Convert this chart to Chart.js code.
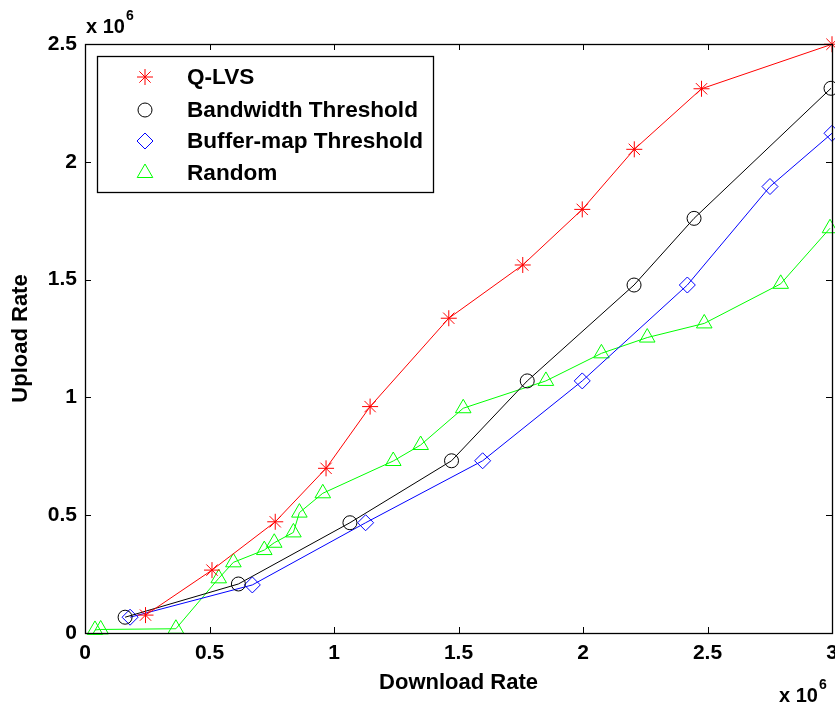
<!DOCTYPE html>
<html>
<head>
<meta charset="utf-8">
<script src="https://cdn.jsdelivr.net/npm/chart.js@4.4.0/dist/chart.umd.min.js"></script>
<style>
  html, body { margin: 0; padding: 0; background: #fff; overflow: hidden; }
  #wrap { width: 850px; height: 711px; }
</style>
</head>
<body>
<div id="wrap"><canvas id="rateChart" width="850" height="711"></canvas></div>
<script>
// values are in units of 10^6 (shown by the "x 10^6" labels)
const seriesNames = ["Q-LVS", "Bandwidth Threshold", "Buffer-map Threshold", "Random"];

const qlvsX = [0.243, 0.51, 0.764, 0.968, 1.145, 1.461, 1.758, 1.997, 2.206, 2.476, 3.0];
const qlvsY = [0.076, 0.267, 0.472, 0.699, 0.961, 1.336, 1.562, 1.798, 2.053, 2.31, 2.499];

const bandwidthX = [0.161, 0.616, 1.064, 1.472, 1.776, 2.205, 2.446, 2.996];
const bandwidthY = [0.067, 0.208, 0.468, 0.731, 1.07, 1.477, 1.76, 2.312];

const bufferX = [0.181, 0.672, 1.127, 1.597, 1.997, 2.419, 2.751, 3.0];
const bufferY = [0.067, 0.204, 0.468, 0.731, 1.07, 1.477, 1.895, 2.121];

const randomX = [0.04, 0.063, 0.365, 0.537, 0.596, 0.72, 0.76, 0.837, 0.861, 0.955, 1.238, 1.348, 1.519, 1.851, 2.074, 2.258, 2.487, 2.794, 2.992];
const randomY = [0.013, 0.015, 0.018, 0.232, 0.300, 0.352, 0.383, 0.427, 0.511, 0.593, 0.730, 0.798, 0.954, 1.070, 1.187, 1.254, 1.314, 1.482, 1.718];

const xTicks = [0, 0.5, 1, 1.5, 2, 2.5, 3];
const yTicks = [0, 0.5, 1, 1.5, 2, 2.5];

const FONT = "'Liberation Sans', Arial, sans-serif";

function pts(xs, ys) {
  return xs.map((x, i) => ({ x: x, y: ys[i] }));
}

function series(label, xs, ys, color, style, r) {
  return {
    label: label,
    data: pts(xs, ys),
    showLine: true,
    borderColor: color,
    backgroundColor: "rgba(0,0,0,0)",
    borderWidth: 1,
    pointStyle: style,
    pointRadius: r,
    pointBorderWidth: 1,
    pointBorderColor: color,
    pointBackgroundColor: "rgba(0,0,0,0)",
    clip: false,
  };
}

// axes box with inward ticks, like matlab
const frame = {
  id: "frame",
  afterDatasetsDraw(chart) {
    const { ctx, chartArea: a, scales } = chart;
    ctx.save();
    ctx.strokeStyle = "#000";
    ctx.lineWidth = 1.3;
    ctx.strokeRect(a.left + 0.5, a.top + 0.5, a.right - a.left, a.bottom - a.top);
    const len = 6;
    ctx.lineWidth = 1;
    ctx.beginPath();
    xTicks.forEach(v => {
      const px = Math.round(scales.x.getPixelForValue(v)) + 0.5;
      ctx.moveTo(px, a.bottom); ctx.lineTo(px, a.bottom - len);
      ctx.moveTo(px, a.top); ctx.lineTo(px, a.top + len);
    });
    yTicks.forEach(v => {
      const py = Math.round(scales.y.getPixelForValue(v)) + 0.5;
      ctx.moveTo(a.left, py); ctx.lineTo(a.left + len, py);
      ctx.moveTo(a.right, py); ctx.lineTo(a.right - len, py);
    });
    ctx.stroke();
    ctx.restore();
  },
  afterDraw(chart) {
    const { ctx } = chart;
    ctx.save();
    // legend box
    const bx = 97, by = 56, bw = 336, bh = 136;
    ctx.fillStyle = "#fff";
    ctx.fillRect(bx, by, bw, bh);
    ctx.strokeStyle = "#000";
    ctx.lineWidth = 1.3;
    ctx.strokeRect(bx + 0.5, by + 0.5, bw, bh);
    const rows = [77, 110, 141, 173];
    ctx.font = "bold 22.6px " + FONT;
    ctx.textBaseline = "middle";
    chart.data.datasets.forEach((ds, i) => {
      ctx.strokeStyle = ds.pointBorderColor;
      ctx.fillStyle = "rgba(0,0,0,0)";
      ctx.lineWidth = 1;
      Chart.helpers.drawPoint(ctx, { pointStyle: ds.pointStyle, radius: ds.pointRadius, borderWidth: 1, rotation: 0 }, 145, rows[i]);
      ctx.fillStyle = "#000";
      ctx.fillText(ds.label, 187, rows[i] + 1);
    });
    // exponent labels
    ctx.textBaseline = "alphabetic";
    function expo(x, y) {
      ctx.font = "bold 20px " + FONT;
      ctx.fillText("x 10", x, y);
      const w = ctx.measureText("x 10").width;
      ctx.font = "bold 14px " + FONT;
      ctx.fillText("6", x + w + 1, y - 13);
    }
    expo(86, 33);
    expo(779, 702);
    ctx.restore();
  },
};

const tickFont = { family: FONT, size: 21, weight: "bold" };
const titleFont = { family: FONT, size: 22, weight: "bold" };

const ctx = document.getElementById("rateChart").getContext("2d");

const rateChart = new Chart(ctx, {
  type: "scatter",
  data: {
    datasets: [
      series(seriesNames[0], qlvsX, qlvsY, "#ff0000", "star", 8),
      series(seriesNames[1], bandwidthX, bandwidthY, "#000000", "circle", 7),
      series(seriesNames[2], bufferX, bufferY, "#0000ff", "rectRot", 8),
      series(seriesNames[3], randomX, randomY, "#00ff00", "triangle", 9),
    ],
  },
  options: {
    responsive: false,
    animation: false,
    layout: { padding: { top: 44, right: 18, left: 0, bottom: 0 } },
    plugins: {
      legend: { display: false },
      tooltip: { enabled: false },
    },
    scales: {
      x: {
        type: "linear",
        min: 0,
        max: 3,
        afterBuildTicks: s => { s.ticks = xTicks.map(v => ({ value: v })); },
        ticks: { callback: v => String(v), color: "#000", font: tickFont, padding: 8, maxRotation: 0, autoSkip: false },
        grid: { display: false, drawTicks: false },
        border: { display: false },
        title: { display: true, text: "Download Rate", color: "#000", font: titleFont, padding: { top: 0, bottom: 15 } },
        afterFit: s => { s.height = 78; },
      },
      y: {
        type: "linear",
        min: 0,
        max: 2.5,
        afterBuildTicks: s => { s.ticks = yTicks.map(v => ({ value: v })); },
        ticks: { callback: v => String(v), color: "#000", font: tickFont, padding: 8, autoSkip: false },
        grid: { display: false, drawTicks: false },
        border: { display: false },
        title: { display: true, text: "Upload Rate", color: "#000", font: titleFont, padding: { top: 8, bottom: 0 } },
        afterFit: s => { s.width = 85; },
      },
    },
  },
  plugins: [frame],
});
</script>
</body>
</html>
